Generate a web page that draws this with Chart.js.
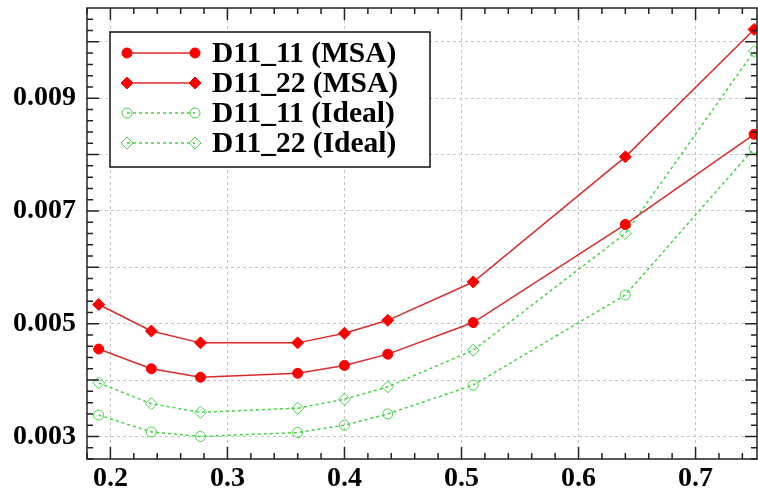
<!DOCTYPE html>
<html>
<head>
<meta charset="utf-8">
<script src="https://cdn.jsdelivr.net/npm/chart.js@4"></script>
<style>
  html, body { margin: 0; padding: 0; background: #fff; }
  canvas { display: block; }
</style>
</head>
<body>
<canvas id="chart" width="758" height="497"></canvas>
<script>
// values
const xValues = [0.19, 0.235, 0.277, 0.36, 0.40, 0.437, 0.51, 0.64, 0.75];
const msa11 = [0.00455, 0.0042, 0.00405, 0.00412, 0.00426, 0.00446, 0.00502, 0.00676, 0.00836];
const msa22 = [0.00534, 0.00487, 0.00466, 0.00466, 0.00483, 0.00506, 0.00574, 0.00796, 0.01022];
const ideal11 = [0.00338, 0.00308, 0.00300, 0.00307, 0.00320, 0.00340, 0.00391, 0.00551, 0.00811];
const ideal22 = [0.00395, 0.00358, 0.00343, 0.00350, 0.00366, 0.00388, 0.00453, 0.00660, 0.00983];
const seriesLabels = ['D11_11 (MSA)', 'D11_22 (MSA)', 'D11_11 (Ideal)', 'D11_22 (Ideal)'];

const xTicks = [0.2, 0.3, 0.4, 0.5, 0.6, 0.7];
const yTicks = [0.003, 0.004, 0.005, 0.006, 0.007, 0.008, 0.009, 0.010];
const yLabelled = [0.003, 0.005, 0.007, 0.009];

const RED_LINE = '#d92b2b';
const RED = '#ff0000';
const GREEN = '#44d444';
const FONT = "'Liberation Serif', 'Times New Roman', serif";

const toPoints = ys => xValues.map((x, i) => ({ x: x, y: ys[i] }));

// no extra room for label overflow, the axes sit where the reference has them
const noPad = s => { s.paddingTop = 0; s.paddingBottom = 0; s.paddingLeft = 0; s.paddingRight = 0; };

// frame with inward major/minor ticks on all four sides
const framePlugin = {
  id: 'frame',
  afterDatasetsDraw(chart) {
    const ctx = chart.ctx;
    const a = chart.chartArea;
    const xs = chart.scales.x, ys = chart.scales.y;
    ctx.save();
    ctx.strokeStyle = '#222';
    ctx.lineWidth = 1.5;
    ctx.strokeRect(a.left, a.top, a.right - a.left, a.bottom - a.top);
    ctx.beginPath();
    for (let k = 9; k * 0.02 < xs.max; k++) {
      const px = xs.getPixelForValue(k * 0.02);
      const len = (k % 5 === 0) ? 12 : 6;
      ctx.moveTo(px, a.bottom); ctx.lineTo(px, a.bottom - len);
      ctx.moveTo(px, a.top); ctx.lineTo(px, a.top + len);
    }
    for (let k = 13; k * 0.0002 < ys.max; k++) {
      const py = ys.getPixelForValue(k * 0.0002);
      const len = (k % 5 === 0) ? 12 : 6;
      ctx.moveTo(a.left, py); ctx.lineTo(a.left + len, py);
      ctx.moveTo(a.right, py); ctx.lineTo(a.right - len, py);
    }
    ctx.stroke();
    ctx.restore();
  }
};

// boxed legend: line with a marker at each end
const legendPlugin = {
  id: 'boxLegend',
  afterDraw(chart) {
    const ctx = chart.ctx;
    ctx.save();
    ctx.fillStyle = '#fff';
    ctx.fillRect(110, 32, 320, 135);
    ctx.strokeStyle = '#111';
    ctx.lineWidth = 1.5;
    ctx.strokeRect(110, 32, 320, 135);
    chart.data.datasets.forEach((ds, i) => {
      const y = 53 + i * 30;
      ctx.save();
      ctx.strokeStyle = ds.borderColor;
      ctx.lineWidth = ds.borderWidth;
      ctx.setLineDash(ds.borderDash || []);
      ctx.beginPath();
      ctx.moveTo(127, y); ctx.lineTo(195, y);
      ctx.stroke();
      ctx.setLineDash([]);
      [127, 195].forEach(px => {
        ctx.fillStyle = ds.pointBackgroundColor;
        ctx.strokeStyle = ds.pointBorderColor;
        ctx.lineWidth = ds.pointBorderWidth;
        Chart.helpers.drawPoint(ctx, {
          pointStyle: ds.pointStyle, radius: ds.pointRadius,
          rotation: 0, borderWidth: ds.pointBorderWidth
        }, px, y);
      });
      ctx.restore();
      ctx.fillStyle = '#000';
      ctx.font = 'bold 29.5px ' + FONT;
      ctx.textBaseline = 'middle';
      ctx.fillText(ds.label, 212, y + 1);
    });
    ctx.restore();
  }
};

new Chart(document.getElementById('chart'), {
  type: 'line',
  data: {
    datasets: [
      {
        label: seriesLabels[0], data: toPoints(msa11),
        borderColor: RED_LINE, borderWidth: 1.5,
        pointStyle: 'circle', pointRadius: 5, pointBorderWidth: 1,
        pointBackgroundColor: RED, pointBorderColor: RED
      },
      {
        label: seriesLabels[1], data: toPoints(msa22),
        borderColor: RED_LINE, borderWidth: 1.5,
        pointStyle: 'rectRot', pointRadius: 6, pointBorderWidth: 1,
        pointBackgroundColor: RED, pointBorderColor: RED
      },
      {
        label: seriesLabels[2], data: toPoints(ideal11),
        borderColor: GREEN, borderWidth: 1.5, borderDash: [3, 3],
        pointStyle: 'circle', pointRadius: 5, pointBorderWidth: 1,
        pointBackgroundColor: 'rgba(0,0,0,0)', pointBorderColor: GREEN
      },
      {
        label: seriesLabels[3], data: toPoints(ideal22),
        borderColor: GREEN, borderWidth: 1.5, borderDash: [3, 3],
        pointStyle: 'rectRot', pointRadius: 6, pointBorderWidth: 1,
        pointBackgroundColor: 'rgba(0,0,0,0)', pointBorderColor: GREEN
      }
    ]
  },
  options: {
    responsive: false,
    animation: false,
    layout: { autoPadding: false, padding: { top: 8, right: 1, left: 0, bottom: 0 } },
    plugins: {
      legend: { display: false },
      tooltip: { enabled: false }
    },
    scales: {
      x: {
        type: 'linear',
        min: 0.18,
        max: 0.7525,
        afterBuildTicks: s => { s.ticks = xTicks.map(v => ({ value: v })); },
        afterFit: s => { s.height = 38; noPad(s); },
        grid: { color: '#c4c4c4', lineWidth: 1, drawTicks: false },
        border: { display: false, dash: [3, 3] },
        ticks: {
          padding: 3,
          color: '#000',
          font: { family: FONT, size: 28, weight: 'bold' },
          maxRotation: 0,
          callback: v => Number(v).toFixed(1)
        }
      },
      y: {
        type: 'linear',
        min: 0.0026,
        max: 0.0106,
        afterBuildTicks: s => { s.ticks = yTicks.map(v => ({ value: v })); },
        afterFit: s => { s.width = 87; noPad(s); },
        grid: { color: '#c4c4c4', lineWidth: 1, drawTicks: false },
        border: { display: false, dash: [3, 3] },
        ticks: {
          padding: 11,
          color: '#000',
          font: { family: FONT, size: 28, weight: 'bold' },
          callback: v => yLabelled.some(l => Math.abs(l - v) < 1e-9) ? Number(v).toFixed(3) : ''
        }
      }
    }
  },
  plugins: [framePlugin, legendPlugin]
});
</script>
</body>
</html>
